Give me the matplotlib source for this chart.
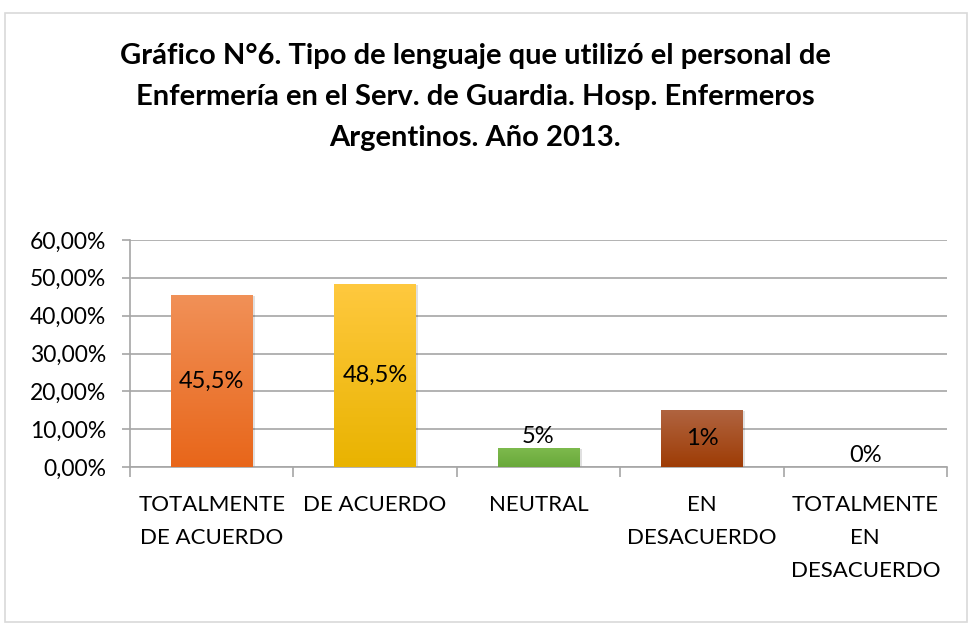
import numpy as np
import matplotlib.pyplot as plt
from matplotlib.patches import Rectangle
from matplotlib.colors import LinearSegmentedColormap
from matplotlib.ticker import FuncFormatter

plt.rcParams['font.family'] = ['Lato', 'DejaVu Sans']

categories = ["TOTALMENTE\nDE ACUERDO", "DE ACUERDO", "NEUTRAL", "EN\nDESACUERDO", "TOTALMENTE\nEN\nDESACUERDO"]
values = [45.5, 48.5, 5.0, 15.0, 0.0]
value_labels = ["45,5%", "48,5%", "5%", "1%", "0%"]
label_inside = [True, True, False, True, False]
top_colors = ["#F19158", "#FFC93F", "#7DBA4D", "#B06440", "#A0A0A0"]
bottom_colors = ["#E8661A", "#E9B300", "#69A83A", "#9E3C05", "#A0A0A0"]
title = "Gráfico N°6. Tipo de lenguaje que utilizó el personal de\nEnfermería en el Serv. de Guardia. Hosp. Enfermeros\nArgentinos. Año 2013."

fig = plt.figure(figsize=(9.7, 6.24), dpi=100)
fig.patches.append(Rectangle((5 / 970, 2 / 624), 962 / 970, 609 / 624, transform=fig.transFigure,
                             fill=False, edgecolor="#D9D9D9", linewidth=1.2))
ax = fig.add_axes([130 / 970, 1 - 467 / 624, 817 / 970, 227 / 624])

x = np.arange(len(categories))
w = 0.5
grad = np.linspace(1, 0, 256).reshape(-1, 1)
for i, v in enumerate(values):
    if v <= 0:
        continue
    # soft shadow
    ax.add_patch(Rectangle((x[i] - w / 2 + 0.015, 0), w, v - 0.3, facecolor="#000000",
                           alpha=0.12, edgecolor="none", zorder=2))
    cmap = LinearSegmentedColormap.from_list("g", [bottom_colors[i], top_colors[i]])
    rect = Rectangle((x[i] - w / 2, 0), w, v, facecolor="none", edgecolor="none", zorder=3)
    ax.add_patch(rect)
    im = ax.imshow(grad, cmap=cmap, aspect="auto", extent=(x[i] - w / 2, x[i] + w / 2, 0, v),
                   zorder=3, vmin=0, vmax=1)
    im.set_clip_path(rect)

for i, v in enumerate(values):
    if label_inside[i]:
        ax.text(x[i], v / 2, value_labels[i], ha="center", va="center", fontsize=17, zorder=5)
    else:
        ax.text(x[i], v + 0.2, value_labels[i], ha="center", va="bottom", fontsize=17, zorder=5)

ax.set_xlim(-0.5, len(categories) - 0.5)
ax.set_ylim(0, 60)
ax.set_yticks(np.arange(0, 61, 10))
ax.yaxis.set_major_formatter(FuncFormatter(lambda v, p: f"{v:.2f}%".replace(".", ",")))
ax.grid(axis="y", color="#A6A6A6", linewidth=1.2, zorder=0)
ax.set_axisbelow(True)
for s in ["top", "right"]:
    ax.spines[s].set_visible(False)
ax.spines["left"].set_color("#A6A6A6")
ax.spines["bottom"].set_color("#A6A6A6")
ax.spines["left"].set_linewidth(1.2)
ax.spines["bottom"].set_linewidth(1.2)

ax.set_xticks(x)
ax.set_xticklabels(categories, fontsize=16, linespacing=1.82, va="top")
ax.set_xticks(np.arange(-0.5, len(categories)), minor=True)
ax.tick_params(axis="x", which="major", length=0, pad=20)
ax.tick_params(axis="x", which="minor", length=7, color="#A6A6A6", width=1.2)
ax.tick_params(axis="y", length=6, color="#A6A6A6", width=1.2, labelsize=16.5, pad=11)

fig.text(475 / 970, 1 - 43 / 624, title, ha="center", va="top", fontsize=21, fontweight="bold",
         linespacing=1.72)

fig.savefig("out.png", dpi=100)
